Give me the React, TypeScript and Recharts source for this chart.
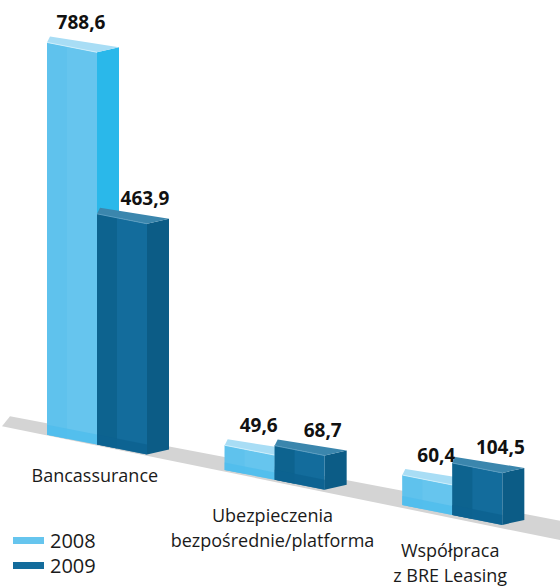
import React from 'react';
import { BarChart, Bar, XAxis, YAxis, Legend } from 'recharts';

const categories = ['Bancassurance', 'Ubezpieczenia\nbezpośrednie/platforma', 'Współpraca\nz BRE Leasing'];
const values2008 = [788.6, 49.6, 60.4];
const values2009 = [463.9, 68.7, 104.5];
const seriesNames = ['2008', '2009'];

const data = categories.map((name, i) => ({
  name,
  v2008: values2008[i],
  v2009: values2009[i],
}));

const W = 560;
const H = 586;
const MARGIN = { top: 29, right: 19, left: 8, bottom: 129 };
const XAXIS_H = 30;
const PLOT_BOTTOM = H - MARGIN.bottom - XAXIS_H;
// floor goes down to the right
const SLOPE = 0.198;
const DX = 22;
const DY = -5;
const FONT = '"Open Sans", "Noto Sans", sans-serif';

const shift = (x: number) => SLOPE * (x - MARGIN.left);
const fmt = (v: number) => v.toFixed(1).replace('.', ',');

const pts = (p: number[][]) => p.map((q) => q.join(',')).join(' ');

type BoxColors = {
  front: string; side: string; top: string; band: string; edge: string; inner: string;
  labelDx: number; labelDy: number;
};

const colors2008: BoxColors = { front: '#66c5ee', side: '#2ab8ea', top: '#a8ddf5', band: '#4fbdec', edge: '#cdeefb', inner: '#5cc0ec', labelDx: -2, labelDy: -20 };
const colors2009: BoxColors = { front: '#136c9c', side: '#0c5c86', top: '#3b86ad', band: '#0d6190', edge: '#5a9cc0', inner: '#0c5f8a', labelDx: 12, labelDy: -16 };

const makeBox = (c: BoxColors, key: 'v2008' | 'v2009') => (props: any) => {
  const { x, y, width, height, payload } = props;
  if (width == null || height == null) return <g />;
  const x0 = x;
  const x1 = x + width;
  const tl = [x0, y + shift(x0)];
  const tr = [x1, y + shift(x1)];
  const bl = [x0, y + height + shift(x0)];
  const br = [x1, y + height + shift(x1)];
  const trb = [tr[0] + DX, tr[1] + DY];
  const brb = [br[0] + DX, br[1] + DY];
  const tlb = [tl[0] + 3, tl[1] - 6];
  const bandH = Math.min(10, height * 0.3);
  const bandTl = [x0, bl[1] - bandH];
  const bandTr = [x1, br[1] - bandH];
  // back edge seen through the glass
  const ix = x0 + DX - 2;
  const inner = [tl, [ix, tl[1] + SLOPE * (DX - 2)], [ix, bl[1] + SLOPE * (DX - 2)], bl];
  return (
    <g>
      <polygon points={pts([tr, trb, brb, br])} fill={c.side} />
      <polygon points={pts([tl, tr, br, bl])} fill={c.front} />
      <polygon points={pts(inner)} fill={c.inner} opacity={0.7} />
      <polygon points={pts([bandTl, bandTr, br, bl])} fill={c.band} opacity={0.8} />
      <polygon points={pts([tl, tlb, trb, tr])} fill={c.top} />
      <line x1={tl[0]} y1={tl[1]} x2={tr[0]} y2={tr[1]} stroke={c.edge} strokeWidth={1} />
      <text
        x={x0 + (width + DX) / 2 + c.labelDx}
        y={tl[1] + c.labelDy}
        textAnchor="middle"
        dominantBaseline="central"
        fontFamily={FONT}
        fontWeight={700}
        fontSize={19}
        fill="#111"
      >
        {fmt(payload[key])}
      </text>
    </g>
  );
};

const CategoryTick = (props: any) => {
  const { x, payload } = props;
  const lines = String(payload.value).split('\n');
  const base = PLOT_BOTTOM + shift(x) + 30 + (lines.length - 1) * 5;
  return (
    <text
      x={x - 2}
      y={base}
      textAnchor="middle"
      dominantBaseline="central"
      fontFamily={FONT}
      fontSize={18}
      fill="#1a1a1a"
    >
      {lines.map((ln, i) => (
        <tspan key={i} x={x - 2} dy={i === 0 ? 0 : 25}>
          {ln}
        </tspan>
      ))}
    </text>
  );
};

// zero-height wrapper so the legend does not shrink the plot
const LegendBox = () => (
  <div style={{ height: 0, overflow: 'visible' }}>
    <div style={{ fontFamily: FONT, fontSize: 20, color: '#1a1a1a' }}>
      {seriesNames.map((n, i) => (
        <div key={n} style={{ display: 'flex', alignItems: 'center', height: 25 }}>
          <span style={{ width: 31, height: 7, background: i === 0 ? colors2008.front : colors2009.front, marginRight: 6 }} />
          <span>{n}</span>
        </div>
      ))}
    </div>
  </div>
);

const Floor = () => {
  const x0 = 2;
  const x1 = W;
  const top = (x: number) => 420 + 0.19 * (x - 30);
  const bot = (x: number) => 432 + 0.204 * (x - 30);
  return (
    <svg width={W} height={H} style={{ position: 'absolute', left: 0, top: 0 }}>
      <polygon points={pts([[x0 + 8, top(x0 + 8)], [x1, top(x1)], [x1, bot(x1)], [x0, bot(x0)]])} fill="#d4d4d4" />
    </svg>
  );
};

export default function App() {
  return (
    <div style={{ position: 'absolute', left: 0, top: 0, width: W, height: H, background: '#fff' }}>
      <Floor />
      <div style={{ position: 'absolute', left: 0, top: 0 }}>
        <BarChart width={W} height={H} data={data} margin={MARGIN} barSize={50} barGap={0}>
          <XAxis dataKey="name" height={XAXIS_H} axisLine={false} tickLine={false} tick={<CategoryTick />} interval={0} />
          <YAxis hide domain={[0, 800]} />
          <Legend
            content={<LegendBox />}
            wrapperStyle={{ position: 'absolute', left: 13, top: 528, width: 120, height: 0 }}
          />
          <Bar dataKey="v2008" name="2008" shape={makeBox(colors2008, 'v2008')} isAnimationActive={false} />
          <Bar dataKey="v2009" name="2009" shape={makeBox(colors2009, 'v2009')} isAnimationActive={false} />
        </BarChart>
      </div>
    </div>
  );
}
